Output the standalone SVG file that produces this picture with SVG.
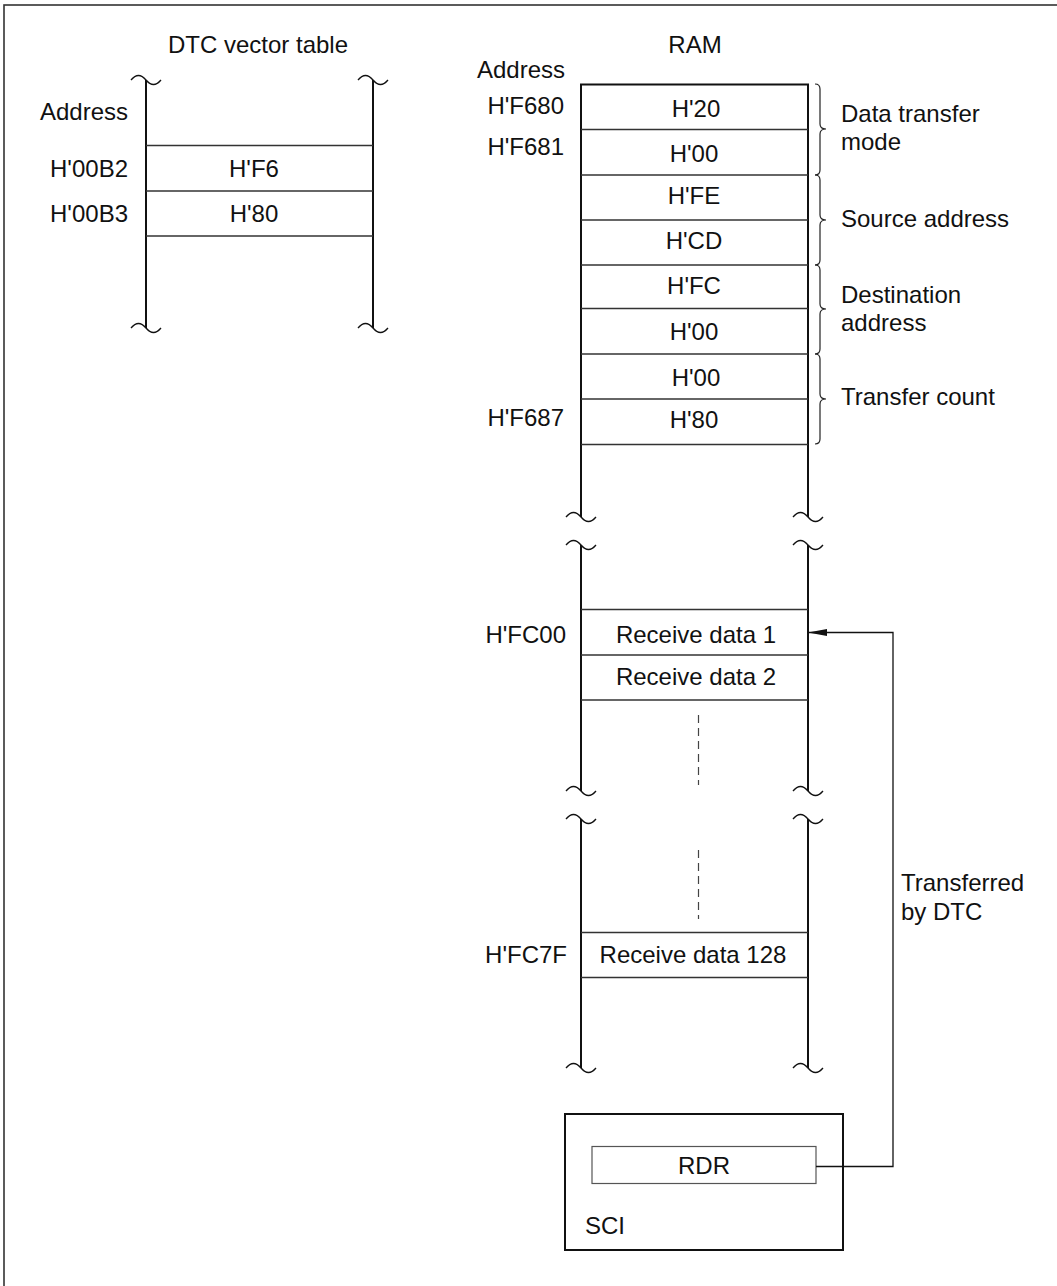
<svg xmlns="http://www.w3.org/2000/svg" xmlns:xlink="http://www.w3.org/1999/xlink" width="1057" height="1286" viewBox="0 0 1057 1286">
<style>
text{font-family:"Liberation Sans",Arial,sans-serif;font-size:24px;fill:#111}
.mid{text-anchor:middle}
.end{text-anchor:end}
.v{stroke:#111;stroke-width:2;fill:none}
.h{stroke:#333;stroke-width:1.3;fill:none}
.w{stroke:#111;stroke-width:1.3;fill:none}
.br{stroke:#222;stroke-width:1.2;fill:none}
.dash{stroke:#444;stroke-width:1.2;stroke-dasharray:8 5;fill:none}
.conn{stroke:#111;stroke-width:1.3;fill:none}
</style>
<defs>
<path id="wave" d="M-15 0 C-10 -6 -5 -6 0 0 C5 6 10 6 15 0"/>
<marker id="arr" viewBox="0 -4 19 8" refX="19" refY="0" markerWidth="19" markerHeight="8" markerUnits="userSpaceOnUse" orient="auto">
<path d="M0,-3.5 L19,0 L0,3.5 z" fill="#111"/>
</marker>
</defs>
<rect x="0" y="0" width="1057" height="1286" fill="#fff"/>
<rect x="4" y="5" width="1060" height="1290" fill="none" stroke="#333" stroke-width="1.6"/>

<g id="dtc-table">
<text class="mid" x="258" y="53">DTC vector table</text>
<line class="v" x1="146" y1="80" x2="146" y2="328"/>
<line class="v" x1="373" y1="80" x2="373" y2="328"/>
<use xlink:href="#wave" href="#wave" x="146" y="80" class="w"/>
<use xlink:href="#wave" href="#wave" x="373" y="80" class="w"/>
<use xlink:href="#wave" href="#wave" x="146" y="328" class="w"/>
<use xlink:href="#wave" href="#wave" x="373" y="328" class="w"/>
<line class="h" x1="146" y1="145.5" x2="373" y2="145.5"/>
<line class="h" x1="146" y1="191" x2="373" y2="191"/>
<line class="h" x1="146" y1="236" x2="373" y2="236"/>
<text class="mid" x="254" y="177">H'F6</text>
<text class="mid" x="254" y="222">H'80</text>
<text class="end" x="128" y="120">Address</text>
<text class="end" x="128" y="177">H'00B2</text>
<text class="end" x="128" y="222">H'00B3</text>
</g>

<g id="ram-params">
<text class="mid" x="695" y="53">RAM</text>
<text class="end" x="565" y="78">Address</text>
<line class="v" x1="581" y1="84" x2="581" y2="517"/>
<line class="v" x1="808" y1="84" x2="808" y2="517"/>
<line class="v" x1="580" y1="84.5" x2="809" y2="84.5"/>
<use xlink:href="#wave" href="#wave" x="581" y="517" class="w"/>
<use xlink:href="#wave" href="#wave" x="808" y="517" class="w"/>
<line class="h" x1="581" y1="129.5" x2="808" y2="129.5"/>
<line class="h" x1="581" y1="175" x2="808" y2="175"/>
<line class="h" x1="581" y1="220" x2="808" y2="220"/>
<line class="h" x1="581" y1="265" x2="808" y2="265"/>
<line class="h" x1="581" y1="308.5" x2="808" y2="308.5"/>
<line class="h" x1="581" y1="354" x2="808" y2="354"/>
<line class="h" x1="581" y1="399" x2="808" y2="399"/>
<line class="h" x1="581" y1="444.5" x2="808" y2="444.5"/>
<text class="mid" x="696" y="117">H'20</text>
<text class="mid" x="694" y="162">H'00</text>
<text class="mid" x="694" y="204">H'FE</text>
<text class="mid" x="694" y="249">H'CD</text>
<text class="mid" x="694" y="294">H'FC</text>
<text class="mid" x="694" y="340">H'00</text>
<text class="mid" x="696" y="386">H'00</text>
<text class="mid" x="694" y="428">H'80</text>
<text class="end" x="564" y="114">H'F680</text>
<text class="end" x="564" y="155">H'F681</text>
<text class="end" x="564" y="426">H'F687</text>
</g>

<g id="braces">
<path class="br" d="M815 84 Q820 84 820 89 L820 124 Q820 129 826 129 Q820 129 820 134 L820 170 Q820 175 815 175"/>
<path class="br" d="M815 175 Q820 175 820 180 L820 215 Q820 220 826 220 Q820 220 820 225 L820 260 Q820 265 815 265"/>
<path class="br" d="M815 265 Q820 265 820 270 L820 304 Q820 309 826 309 Q820 309 820 314 L820 349 Q820 354 815 354"/>
<path class="br" d="M815 354 Q820 354 820 359 L820 394 Q820 399 826 399 Q820 399 820 404 L820 439 Q820 444 815 444"/>
<text x="841" y="122">Data transfer</text>
<text x="841" y="150">mode</text>
<text x="841" y="227">Source address</text>
<text x="841" y="303">Destination</text>
<text x="841" y="331">address</text>
<text x="841" y="405">Transfer count</text>
</g>

<g id="ram-receive">
<line class="v" x1="581" y1="545" x2="581" y2="791"/>
<line class="v" x1="808" y1="545" x2="808" y2="791"/>
<use xlink:href="#wave" href="#wave" x="581" y="545" class="w"/>
<use xlink:href="#wave" href="#wave" x="808" y="545" class="w"/>
<use xlink:href="#wave" href="#wave" x="581" y="791" class="w"/>
<use xlink:href="#wave" href="#wave" x="808" y="791" class="w"/>
<line class="h" x1="581" y1="609.5" x2="808" y2="609.5"/>
<line class="h" x1="581" y1="655" x2="808" y2="655"/>
<line class="h" x1="581" y1="700" x2="808" y2="700"/>
<text class="mid" x="696" y="643">Receive data 1</text>
<text class="mid" x="696" y="685">Receive data 2</text>
<text class="end" x="566" y="643">H'FC00</text>
<line class="dash" x1="698.5" y1="715" x2="698.5" y2="785"/>
</g>

<g id="ram-receive-end">
<line class="v" x1="581" y1="819" x2="581" y2="1068"/>
<line class="v" x1="808" y1="819" x2="808" y2="1068"/>
<use xlink:href="#wave" href="#wave" x="581" y="819" class="w"/>
<use xlink:href="#wave" href="#wave" x="808" y="819" class="w"/>
<use xlink:href="#wave" href="#wave" x="581" y="1068" class="w"/>
<use xlink:href="#wave" href="#wave" x="808" y="1068" class="w"/>
<line class="dash" x1="698.5" y1="850" x2="698.5" y2="919"/>
<line class="h" x1="581" y1="932.5" x2="808" y2="932.5"/>
<line class="h" x1="581" y1="977.5" x2="808" y2="977.5"/>
<text class="mid" x="693" y="963">Receive data 128</text>
<text class="end" x="567" y="963">H'FC7F</text>
</g>

<g id="sci">
<rect x="565" y="1114" width="278" height="136" fill="none" stroke="#111" stroke-width="2"/>
<text x="585" y="1234">SCI</text>
</g>

<g id="rdr">
<rect x="592" y="1146.5" width="224" height="37" fill="none" stroke="#555" stroke-width="1.2"/>
<text class="mid" x="704" y="1174">RDR</text>
</g>

<g id="connectors">
<path class="conn" d="M816 1166.5 H893 V632.5 H808" marker-end="url(#arr)"/>
<text x="901" y="891">Transferred</text>
<text x="901" y="920">by DTC</text>
</g>
</svg>
